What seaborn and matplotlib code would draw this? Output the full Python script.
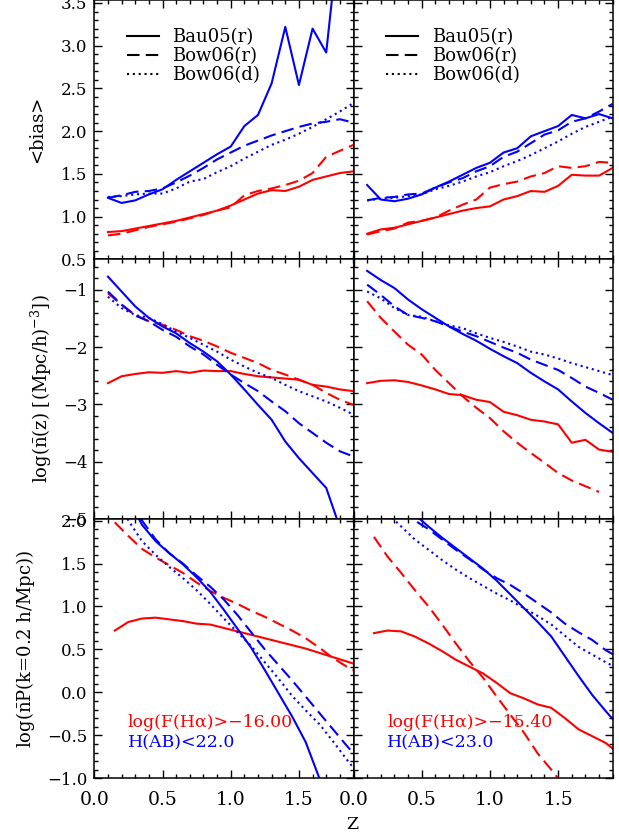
import numpy as np
import pandas as pd
import matplotlib
matplotlib.use("Agg")
import matplotlib.pyplot as plt
from matplotlib.lines import Line2D
from matplotlib.ticker import MultipleLocator
import seaborn as sns

MODELS = ['Bau05(r)', 'Bow06(r)', 'Bow06(d)']
SAMPLES = ['Hα', 'H']
CUTS_A = ['log(F(Hα)>−16.00', 'H(AB)<22.0']
CUTS_B = ['log(F(Hα)>−15.40', 'H(AB)<23.0']
YLABELS = ['<bias>',
           r'log($\bar{\mathrm{n}}$(z) [(Mpc/h)$^{-3}$])',
           r'log($\bar{\mathrm{n}}$P(k=0.2 h/Mpc))']

Z_GRID = [0.1, 0.2, 0.3, 0.4, 0.5, 0.6, 0.7, 0.8, 0.9, 1.0,
          1.1, 1.2, 1.3, 1.4, 1.5, 1.6, 1.7, 1.8, 1.9]
Z_GRID_P = [0.15, 0.25, 0.35, 0.45, 0.55, 0.65, 0.75, 0.85, 0.95, 1.05,
            1.15, 1.25, 1.35, 1.45, 1.55, 1.65, 1.75, 1.85, 1.95]
nan = np.nan

# bias, left column
BIAS_A_HA_BAU = [0.82, 0.83, 0.86, 0.89, 0.92, 0.95, 0.99, 1.03, 1.07, 1.13, 1.20, 1.27, 1.31, 1.30, 1.35, 1.43, 1.47, 1.51, 1.53]
BIAS_A_HA_BOWR = [0.78, 0.80, 0.84, 0.88, 0.91, 0.94, 0.98, 1.02, 1.07, 1.11, 1.25, 1.30, 1.33, 1.37, 1.42, 1.51, 1.70, 1.77, 1.84]
BIAS_A_H_BAU = [1.22, 1.16, 1.19, 1.26, 1.32, 1.43, 1.53, 1.63, 1.73, 1.82, 2.06, 2.19, 2.56, 3.22, 2.54, 3.20, 2.92, 4.40, 5.00]
BIAS_A_H_BOWR = [1.22, 1.25, 1.29, 1.30, 1.33, 1.40, 1.48, 1.57, 1.67, 1.75, 1.83, 1.89, 1.95, 2.00, 2.05, 2.09, 2.11, 2.14, 2.10]
BIAS_A_H_BOWD = [1.23, 1.24, 1.26, 1.27, 1.27, 1.33, 1.41, 1.44, 1.52, 1.59, 1.68, 1.76, 1.84, 1.90, 1.97, 2.05, 2.14, 2.23, 2.33]

# bias, right column
BIAS_B_HA_BAU = [0.80, 0.85, 0.87, 0.91, 0.95, 0.99, 1.03, 1.07, 1.10, 1.12, 1.20, 1.24, 1.30, 1.29, 1.36, 1.49, 1.48, 1.48, 1.57]
BIAS_B_HA_BOWR = [0.79, 0.83, 0.86, 0.93, 0.95, 0.99, 1.07, 1.14, 1.20, 1.34, 1.38, 1.41, 1.47, 1.51, 1.59, 1.57, 1.59, 1.64, 1.63]
BIAS_B_H_BAU = [1.37, 1.20, 1.18, 1.21, 1.26, 1.34, 1.41, 1.49, 1.57, 1.63, 1.75, 1.80, 1.94, 2.00, 2.06, 2.19, 2.15, 2.20, 2.15]
BIAS_B_H_BOWR = [1.19, 1.22, 1.23, 1.26, 1.27, 1.34, 1.40, 1.45, 1.53, 1.59, 1.70, 1.76, 1.86, 1.96, 2.01, 2.11, 2.15, 2.23, 2.32]
BIAS_B_H_BOWD = [1.19, 1.21, 1.22, 1.24, 1.26, 1.32, 1.36, 1.41, 1.47, 1.52, 1.59, 1.65, 1.72, 1.80, 1.88, 1.97, 2.05, 2.11, 2.17]

# log number density, left column
NZ_A_HA_BAU = [-2.63, -2.51, -2.47, -2.44, -2.45, -2.42, -2.45, -2.41, -2.42, -2.42, -2.47, -2.51, -2.53, -2.55, -2.57, -2.66, -2.69, -2.74, -2.77]
NZ_A_HA_BOWR = [-1.06, -1.26, -1.44, -1.55, -1.61, -1.70, -1.81, -1.89, -1.99, -2.10, -2.19, -2.28, -2.40, -2.48, -2.57, -2.66, -2.80, -2.92, -3.01]
NZ_A_H_BAU = [-0.77, -1.03, -1.29, -1.49, -1.64, -1.76, -1.93, -2.08, -2.25, -2.48, -2.74, -3.01, -3.27, -3.65, -3.94, -4.20, -4.46, -5.15, -5.80]
NZ_A_H_BOWR = [-1.03, -1.26, -1.45, -1.55, -1.70, -1.82, -1.99, -2.13, -2.31, -2.48, -2.63, -2.77, -2.95, -3.12, -3.33, -3.50, -3.67, -3.82, -3.91]
NZ_A_H_BOWD = [-1.12, -1.32, -1.44, -1.49, -1.60, -1.73, -1.84, -1.96, -2.08, -2.22, -2.34, -2.45, -2.54, -2.66, -2.77, -2.86, -2.95, -3.06, -3.18]

# log number density, right column
NZ_B_HA_BAU = [-2.63, -2.59, -2.58, -2.61, -2.67, -2.74, -2.82, -2.84, -2.92, -2.96, -3.13, -3.19, -3.27, -3.30, -3.35, -3.67, -3.62, -3.79, -3.83]
NZ_B_HA_BOWR = [-1.20, -1.49, -1.73, -1.96, -2.13, -2.40, -2.63, -2.86, -3.06, -3.24, -3.47, -3.67, -3.85, -4.02, -4.20, -4.33, -4.43, -4.53, nan]
NZ_B_H_BAU = [-0.67, -0.83, -0.97, -1.17, -1.34, -1.49, -1.64, -1.77, -1.89, -2.03, -2.16, -2.28, -2.45, -2.60, -2.74, -2.95, -3.15, -3.33, -3.50]
NZ_B_H_BOWR = [-0.91, -1.09, -1.29, -1.44, -1.49, -1.55, -1.64, -1.73, -1.81, -1.91, -2.01, -2.10, -2.22, -2.31, -2.40, -2.54, -2.69, -2.80, -2.92]
NZ_B_H_BOWD = [-1.03, -1.15, -1.32, -1.44, -1.47, -1.55, -1.62, -1.67, -1.76, -1.84, -1.91, -1.99, -2.08, -2.13, -2.20, -2.28, -2.35, -2.42, -2.49]

# log nP(k=0.2), left column
NP_A_HA_BAU = [0.72, 0.82, 0.86, 0.87, 0.85, 0.83, 0.80, 0.79, 0.75, 0.71, 0.67, 0.63, 0.59, 0.55, 0.51, 0.46, 0.41, 0.36, 0.31]
NP_A_HA_BOWR = [1.98, 1.82, 1.67, 1.57, 1.48, 1.39, 1.28, 1.18, 1.10, 1.03, 0.95, 0.88, 0.80, 0.72, 0.63, 0.52, 0.40, 0.30, 0.22]
NP_A_H_BAU = [2.60, 2.25, 1.95, 1.76, 1.62, 1.49, 1.34, 1.17, 0.96, 0.74, 0.52, 0.26, -0.01, -0.28, -0.58, -1.00, -1.40, -1.80, -2.20]
NP_A_H_BOWR = [2.60, 2.30, 2.00, 1.78, 1.62, 1.50, 1.36, 1.23, 1.08, 0.90, 0.70, 0.50, 0.32, 0.14, -0.05, -0.24, -0.43, -0.62, -0.80]
NP_A_H_BOWD = [2.40, 2.00, 1.76, 1.60, 1.46, 1.33, 1.19, 1.03, 0.86, 0.70, 0.54, 0.35, 0.16, -0.04, -0.21, -0.37, -0.57, -0.78, -0.98]

# log nP(k=0.2), right column
NP_B_HA_BAU = [0.69, 0.72, 0.71, 0.65, 0.57, 0.48, 0.38, 0.30, 0.22, 0.11, -0.01, -0.07, -0.14, -0.18, -0.30, -0.43, -0.51, -0.59, -0.72]
NP_B_HA_BOWR = [1.81, 1.58, 1.39, 1.19, 1.00, 0.79, 0.57, 0.36, 0.17, -0.05, -0.26, -0.47, -0.71, -0.90, -1.10, nan, nan, nan, nan]
NP_B_H_BAU = [2.60, 2.40, 2.22, 2.07, 1.93, 1.80, 1.68, 1.56, 1.44, 1.30, 1.14, 0.98, 0.82, 0.65, 0.42, 0.19, -0.03, -0.22, -0.40]
NP_B_H_BOWR = [2.40, 2.30, 2.15, 2.00, 1.90, 1.78, 1.66, 1.55, 1.43, 1.33, 1.25, 1.15, 1.04, 0.93, 0.80, 0.70, 0.61, 0.49, 0.40]
NP_B_H_BOWD = [2.30, 2.08, 1.93, 1.78, 1.66, 1.54, 1.43, 1.33, 1.24, 1.15, 1.07, 0.98, 0.89, 0.79, 0.66, 0.53, 0.44, 0.35, 0.27]

YLIMS = [(0.499, 3.535), (-5.0, -0.47), (-1.0, 2.02)]
YMAJOR = [0.5, 1.0, 0.5]
YMINOR = [0.1, 0.2, 0.1]

PALETTE = {'Hα': '#ff0000', 'H': '#0000ff'}
DASHES = {'Bau05(r)': '', 'Bow06(r)': (6, 3), 'Bow06(d)': (1, 1.8)}

panels = [
    (0, 0, Z_GRID, [('Hα', 0, BIAS_A_HA_BAU), ('Hα', 1, BIAS_A_HA_BOWR),
                    ('H', 0, BIAS_A_H_BAU), ('H', 1, BIAS_A_H_BOWR), ('H', 2, BIAS_A_H_BOWD)]),
    (0, 1, Z_GRID, [('Hα', 0, BIAS_B_HA_BAU), ('Hα', 1, BIAS_B_HA_BOWR),
                    ('H', 0, BIAS_B_H_BAU), ('H', 1, BIAS_B_H_BOWR), ('H', 2, BIAS_B_H_BOWD)]),
    (1, 0, Z_GRID, [('Hα', 0, NZ_A_HA_BAU), ('Hα', 1, NZ_A_HA_BOWR),
                    ('H', 0, NZ_A_H_BAU), ('H', 1, NZ_A_H_BOWR), ('H', 2, NZ_A_H_BOWD)]),
    (1, 1, Z_GRID, [('Hα', 0, NZ_B_HA_BAU), ('Hα', 1, NZ_B_HA_BOWR),
                    ('H', 0, NZ_B_H_BAU), ('H', 1, NZ_B_H_BOWR), ('H', 2, NZ_B_H_BOWD)]),
    (2, 0, Z_GRID_P, [('Hα', 0, NP_A_HA_BAU), ('Hα', 1, NP_A_HA_BOWR),
                      ('H', 0, NP_A_H_BAU), ('H', 1, NP_A_H_BOWR), ('H', 2, NP_A_H_BOWD)]),
    (2, 1, Z_GRID_P, [('Hα', 0, NP_B_HA_BAU), ('Hα', 1, NP_B_HA_BOWR),
                      ('H', 0, NP_B_H_BAU), ('H', 1, NP_B_H_BOWR), ('H', 2, NP_B_H_BOWD)]),
]

plt.rcParams['font.family'] = ['DejaVu Serif']
plt.rcParams['mathtext.fontset'] = 'dejavuserif'
plt.rcParams['axes.linewidth'] = 1.1

fig, axes = plt.subplots(3, 2, figsize=(6.19, 8.38), dpi=100, sharex=True, sharey='row')
fig.subplots_adjust(left=94.3 / 619, right=612.7 / 619, top=1.0, bottom=1 - 778.3 / 838,
                    wspace=0, hspace=0)

for row, col, z, series in panels:
    ax = axes[row, col]
    frame = pd.concat([pd.DataFrame({'z': z, 'value': vals, 'sample': s, 'model': MODELS[m]})
                       for s, m, vals in series], ignore_index=True)
    sns.lineplot(data=frame, x='z', y='value', hue='sample', style='model',
                 palette=PALETTE, dashes=DASHES, estimator=None, sort=False,
                 legend=False, linewidth=1.5, ax=ax)
    ax.set_xlim(0, 1.9)
    ax.set_ylim(*YLIMS[row])
    ax.xaxis.set_major_locator(MultipleLocator(0.5))
    ax.xaxis.set_minor_locator(MultipleLocator(0.1))
    ax.yaxis.set_major_locator(MultipleLocator(YMAJOR[row]))
    ax.yaxis.set_minor_locator(MultipleLocator(YMINOR[row]))
    ax.tick_params(which='both', direction='in', top=True, right=True, width=1.0)
    ax.tick_params(which='major', length=5.5)
    ax.tick_params(which='minor', length=3)
    ax.tick_params(axis='y', labelsize=12, pad=5)
    ax.tick_params(axis='x', labelsize=13.5, pad=9)
    ax.set_xlabel('')
    ax.set_ylabel('')

# legends in the top row
proxies = [Line2D([], [], color='black', lw=1.5, dashes=DASHES[m]) for m in MODELS]
for ax in axes[0]:
    ax.legend(proxies, MODELS, loc='upper left', bbox_to_anchor=(0.127, 0.89),
              frameon=False, borderpad=0, borderaxespad=0, handlelength=1.75,
              handletextpad=0.75, labelspacing=0.05, fontsize=13)

# selection labels in the bottom row
for ax, cuts in zip(axes[2], [CUTS_A, CUTS_B]):
    ax.text(0.13, 0.217, cuts[0], color=PALETTE['Hα'], transform=ax.transAxes,
            ha='left', va='center', fontsize=12.5)
    ax.text(0.13, 0.136, cuts[1], color=PALETTE['H'], transform=ax.transAxes,
            ha='left', va='center', fontsize=12.5)

for ax, label, xpos in zip(axes[:, 0], YLABELS, [-0.221, -0.206, -0.264]):
    ax.set_ylabel(label, fontsize=13, va='center')
    ax.yaxis.set_label_coords(xpos, 0.5)

fig.text(352 / 619, 1 - 824 / 838, 'Z', ha='center', va='center', fontsize=12.5)

fig.savefig('out.png', dpi=100)
